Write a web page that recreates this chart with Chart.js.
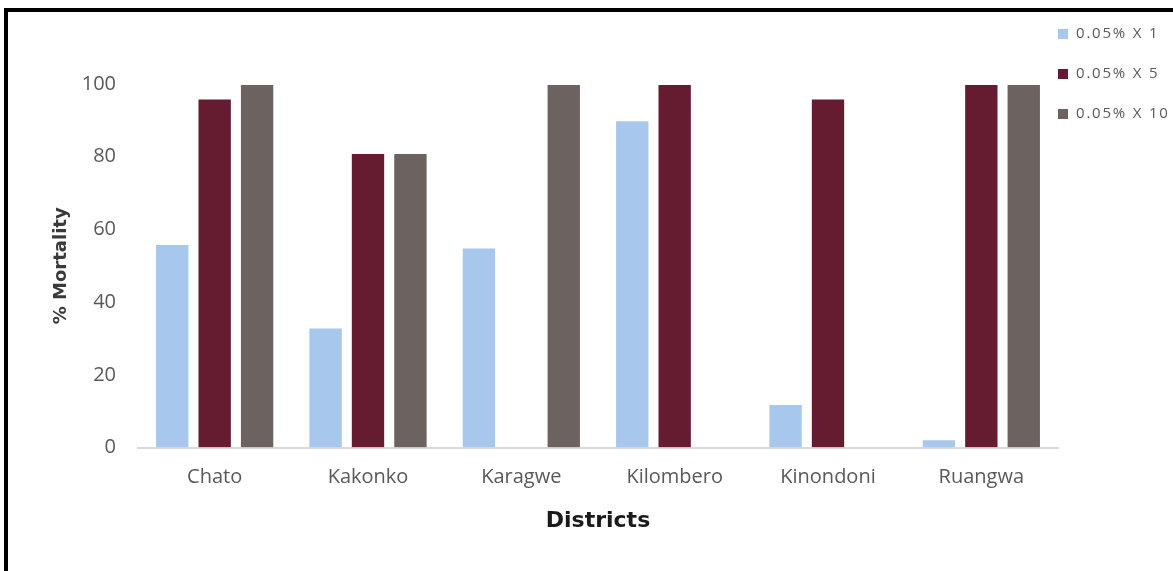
<!DOCTYPE html>
<html>
<head>
<meta charset="utf-8">
<script src="https://cdn.jsdelivr.net/npm/chart.js@4"></script>
<style>
  body { margin: 0; background: #fff; overflow: hidden; }
  #frame {
    position: absolute; left: 4px; top: 8px;
    width: 1300px; height: 700px;
    border: 4px solid #000;
  }
  #wrap { position: absolute; left: 0; top: 0; width: 1173px; height: 571px; }
  #legend {
    position: absolute; left: 1058px; top: 22px;
    margin: 0; padding: 0; list-style: none;
    font: 15px "Open Sans", sans-serif; color: #595959;
    letter-spacing: 1.8px;
  }
  #legend li { height: 20px; line-height: 20px; margin-bottom: 20px; white-space: nowrap; }
  #legend span {
    display: inline-block; width: 10px; height: 10px;
    margin-right: 8px; vertical-align: -1px;
  }
</style>
</head>
<body>
<div id="frame"></div>
<div id="wrap"><canvas id="mortalityChart" width="1173" height="571"></canvas></div>
<ul id="legend"></ul>
<script>
const districts = ["Chato", "Kakonko", "Karagwe", "Kilombero", "Kinondoni", "Ruangwa"];
const doseX1 = [56, 33, 55, 90, 12, 2.3];
const doseX5 = [96, 81, 0, 100, 96, 100];
const doseX10 = [100, 81, 100, 0, 0, 100];
const seriesNames = ["0.05% X 1", "0.05% X 5", "0.05% X 10"];
const seriesColors = ["#a8c7ed", "#651c31", "#6c6360"];

const tickFont = { family: "Open Sans", size: 20 };

const mkSet = (i, data) => ({
  label: seriesNames[i],
  data: data,
  backgroundColor: seriesColors[i],
  borderColor: "rgba(255,255,255,0.5)",
  borderWidth: 1,
  categoryPercentage: 0.83,
  barPercentage: 0.81,
});

const ctx = document.getElementById("mortalityChart");

const chart = new Chart(ctx, {
  type: "bar",
  data: {
    labels: districts,
    datasets: [mkSet(0, doseX1), mkSet(1, doseX5), mkSet(2, doseX10)],
  },
  options: {
    responsive: false,
    animation: false,
    layout: { padding: { left: 48, top: 84, bottom: 33, right: 115 } },
    plugins: {
      tooltip: { enabled: false },
      legend: { display: false },
    },
    scales: {
      x: {
        grid: { display: false, drawTicks: false },
        border: { display: true, color: "#d9d9d9", width: 2 },
        ticks: { color: "#595959", font: tickFont, padding: 18 },
        title: {
          display: true,
          text: "Districts",
          color: "#1a1a1a",
          font: { family: "DejaVu Sans", size: 22, weight: "bold" },
          padding: { top: 0 },
        },
      },
      y: {
        min: 0,
        max: 100,
        grid: { display: false, drawTicks: false },
        border: { display: false },
        ticks: { stepSize: 20, color: "#595959", font: tickFont, padding: 22 },
        title: {
          display: true,
          text: "% Mortality",
          color: "#3a3a3a",
          font: { family: "DejaVu Sans", size: 18, weight: "bold" },
          padding: { top: 3, bottom: 0 },
        },
        // fixed axis width so the plot starts at x = 138
        afterFit: (scale) => {
          scale.width = 90;
        },
      },
    },
  },
});

// legend list built from the chart's own datasets
const legendEl = document.getElementById("legend");
for (const ds of chart.data.datasets) {
  const li = document.createElement("li");
  const box = document.createElement("span");
  box.style.background = ds.backgroundColor;
  li.appendChild(box);
  li.appendChild(document.createTextNode(ds.label));
  legendEl.appendChild(li);
}
</script>
</body>
</html>
